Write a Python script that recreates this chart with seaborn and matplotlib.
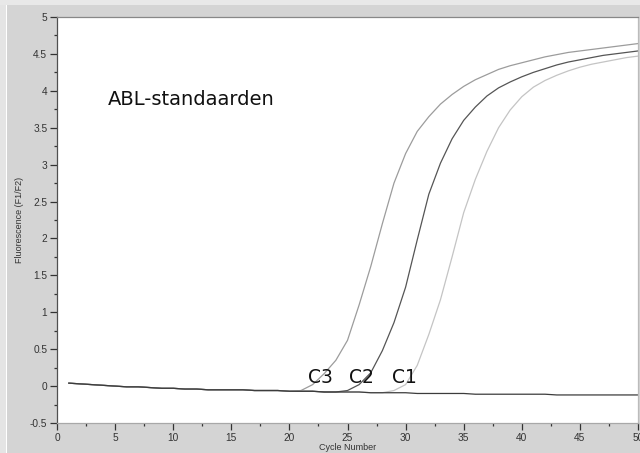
import numpy as np
import pandas as pd
import matplotlib
matplotlib.use("Agg")
import matplotlib.pyplot as plt
from matplotlib.ticker import MultipleLocator
from matplotlib.patches import Rectangle
import seaborn as sns

cycles = list(range(1, 51))

negative = [0.04, 0.03, 0.02, 0.01, 0.00, -0.01, -0.01, -0.02, -0.03, -0.03,
            -0.04, -0.04, -0.05, -0.05, -0.05, -0.05, -0.06, -0.06, -0.06, -0.07,
            -0.07, -0.07, -0.08, -0.08, -0.08, -0.08, -0.09, -0.09, -0.09, -0.09,
            -0.10, -0.10, -0.10, -0.10, -0.10, -0.11, -0.11, -0.11, -0.11, -0.11,
            -0.11, -0.11, -0.12, -0.12, -0.12, -0.12, -0.12, -0.12, -0.12, -0.12]

c3 = [0.04, 0.03, 0.02, 0.01, 0.00, -0.01, -0.01, -0.02, -0.03, -0.03,
      -0.04, -0.04, -0.05, -0.05, -0.05, -0.05, -0.06, -0.06, -0.06, -0.07,
      -0.06, 0.02, 0.17, 0.35, 0.62, 1.10, 1.62, 2.20, 2.75, 3.15,
      3.45, 3.65, 3.82, 3.95, 4.06, 4.15, 4.22, 4.29, 4.34, 4.38,
      4.42, 4.46, 4.49, 4.52, 4.54, 4.56, 4.58, 4.60, 4.62, 4.64]

c2 = [0.04, 0.03, 0.02, 0.01, 0.00, -0.01, -0.01, -0.02, -0.03, -0.03,
      -0.04, -0.04, -0.05, -0.05, -0.05, -0.05, -0.06, -0.06, -0.06, -0.07,
      -0.07, -0.07, -0.08, -0.08, -0.06, 0.02, 0.18, 0.48, 0.86, 1.34,
      1.98, 2.60, 3.02, 3.35, 3.60, 3.78, 3.93, 4.04, 4.12, 4.19,
      4.25, 4.30, 4.35, 4.39, 4.42, 4.45, 4.48, 4.50, 4.52, 4.54]

c1 = [0.04, 0.03, 0.02, 0.01, 0.00, -0.01, -0.01, -0.02, -0.03, -0.03,
      -0.04, -0.04, -0.05, -0.05, -0.05, -0.05, -0.06, -0.06, -0.06, -0.07,
      -0.07, -0.07, -0.08, -0.08, -0.08, -0.08, -0.09, -0.09, -0.06, 0.02,
      0.28, 0.70, 1.17, 1.75, 2.35, 2.80, 3.18, 3.50, 3.74, 3.92,
      4.05, 4.14, 4.21, 4.27, 4.32, 4.36, 4.39, 4.42, 4.45, 4.47]

series_names = ["C1", "C2", "C3", "NEG"]
series_values = [c1, c2, c3, negative]
series_colors = ["#c4c4c4", "#555555", "#9c9c9c", "#3c3c3c"]

curve_labels = ["C3", "C2", "C1"]
curve_label_x = [22.7, 26.2, 29.9]
curve_label_y = [0.11, 0.11, 0.11]

title_text = "ABL-standaarden"
x_label = "Cycle Number"
y_label = "Fluorescence (F1/F2)"

df = pd.DataFrame({
    "Cycle": np.tile(cycles, len(series_names)),
    "Fluorescence": np.concatenate(series_values),
    "Sample": np.repeat(series_names, len(cycles)),
})

sns.set_style("white")
plt.rcParams["font.family"] = ["Liberation Sans", "DejaVu Sans"]

fig = plt.figure(figsize=(6.4, 4.53), dpi=100, facecolor="#d4d4d4")
# window frame decorations
fig.patches.append(Rectangle((0, 0), 6 / 640, 1, transform=fig.transFigure,
                             facecolor="#e4e4e4", edgecolor="none", zorder=0))
fig.patches.append(Rectangle((6 / 640, 0), 1.2 / 640, 1, transform=fig.transFigure,
                             facecolor="#ffffff", edgecolor="none", zorder=0))
fig.patches.append(Rectangle((0, 1 - 5 / 453), 1, 5 / 453, transform=fig.transFigure,
                             facecolor="#e8e8e8", edgecolor="none", zorder=0))

ax = fig.add_axes([57 / 640, 1 - 423 / 453, (638 - 57) / 640, (423 - 17) / 453])
ax.set_facecolor("white")

sns.lineplot(data=df, x="Cycle", y="Fluorescence", hue="Sample",
             hue_order=series_names, palette=dict(zip(series_names, series_colors)),
             estimator=None, legend=False, linewidth=0.9, ax=ax)

ax.set_xlim(0, 50)
ax.set_ylim(-0.5, 5)
ax.set_yticks(np.arange(-0.5, 5.01, 0.5))
ax.set_yticklabels(["-0.5", "0", "0.5", "1", "1.5", "2", "2.5", "3", "3.5", "4", "4.5", "5"])
ax.set_xticks(np.arange(0, 51, 5))
ax.set_xticklabels([str(v) for v in range(0, 51, 5)])
ax.xaxis.set_minor_locator(MultipleLocator(2.5))
ax.yaxis.set_minor_locator(MultipleLocator(0.25))

ax.tick_params(axis="both", which="both", bottom=True, left=True, top=False, right=False)
ax.tick_params(axis="both", which="major", direction="out", length=5, width=0.9,
               color="#333333", labelsize=7.3, labelcolor="#333333", pad=2)
ax.tick_params(axis="both", which="minor", direction="out", length=2.5, width=0.9,
               color="#333333")

ax.set_xlabel(x_label, fontsize=6.5, color="#333333", labelpad=0)
ax.set_ylabel(y_label, fontsize=6.5, color="#333333", labelpad=4)

for side, col in [("left", "#505050"), ("bottom", "#a8a8a8"),
                  ("top", "#888888"), ("right", "#bbbbbb")]:
    ax.spines[side].set_visible(True)
    ax.spines[side].set_color(col)
    ax.spines[side].set_linewidth(0.9)

ax.text(4.4, 3.88, title_text, fontsize=14, color="#111111",
        ha="left", va="center", family=["DejaVu Sans"])
for lab, lx, ly in zip(curve_labels, curve_label_x, curve_label_y):
    ax.text(lx, ly, lab, fontsize=13.5, color="#111111", ha="center", va="center",
            family=["DejaVu Sans"])

fig.savefig("out.png", dpi=100, facecolor=fig.get_facecolor())
